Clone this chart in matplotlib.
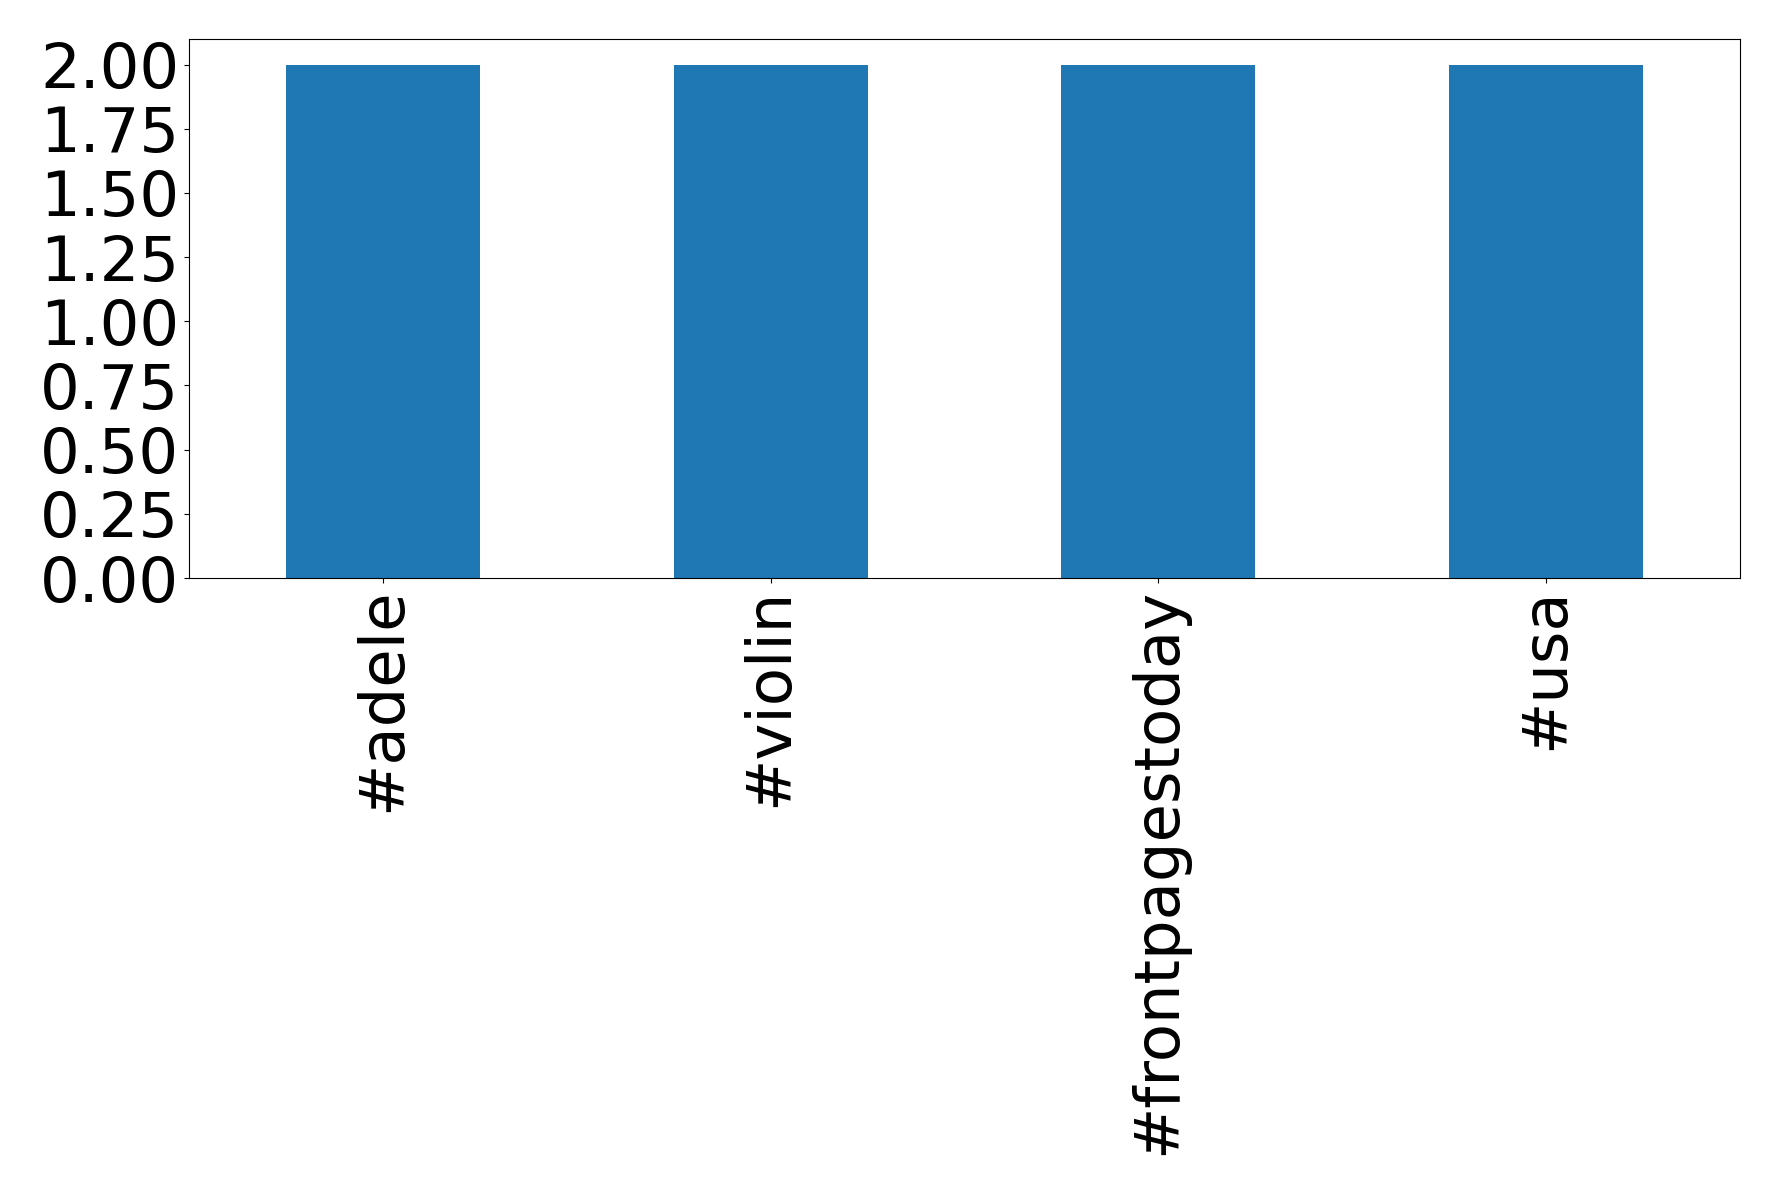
import pandas as pd
import matplotlib
matplotlib.use("Agg")
import matplotlib.pyplot as plt
from matplotlib.ticker import MultipleLocator, FormatStrFormatter

# hashtag counts
hashtags = ["#adele", "#violin", "#frontpagestoday", "#usa"]
counts = [2.0, 2.0, 2.0, 2.0]

data = pd.Series(counts, index=hashtags)

fig = plt.figure(figsize=(17.78, 11.95), dpi=100)
ax = fig.add_axes([0.1063, 0.5163, 0.8723, 0.4511])
data.plot(kind="bar", ax=ax, color="#1f77b4")
ax.yaxis.set_major_locator(MultipleLocator(0.25))
ax.yaxis.set_major_formatter(FormatStrFormatter("%.2f"))
ax.tick_params(axis="both", labelsize=45)
plt.savefig("out.png", dpi=100)
